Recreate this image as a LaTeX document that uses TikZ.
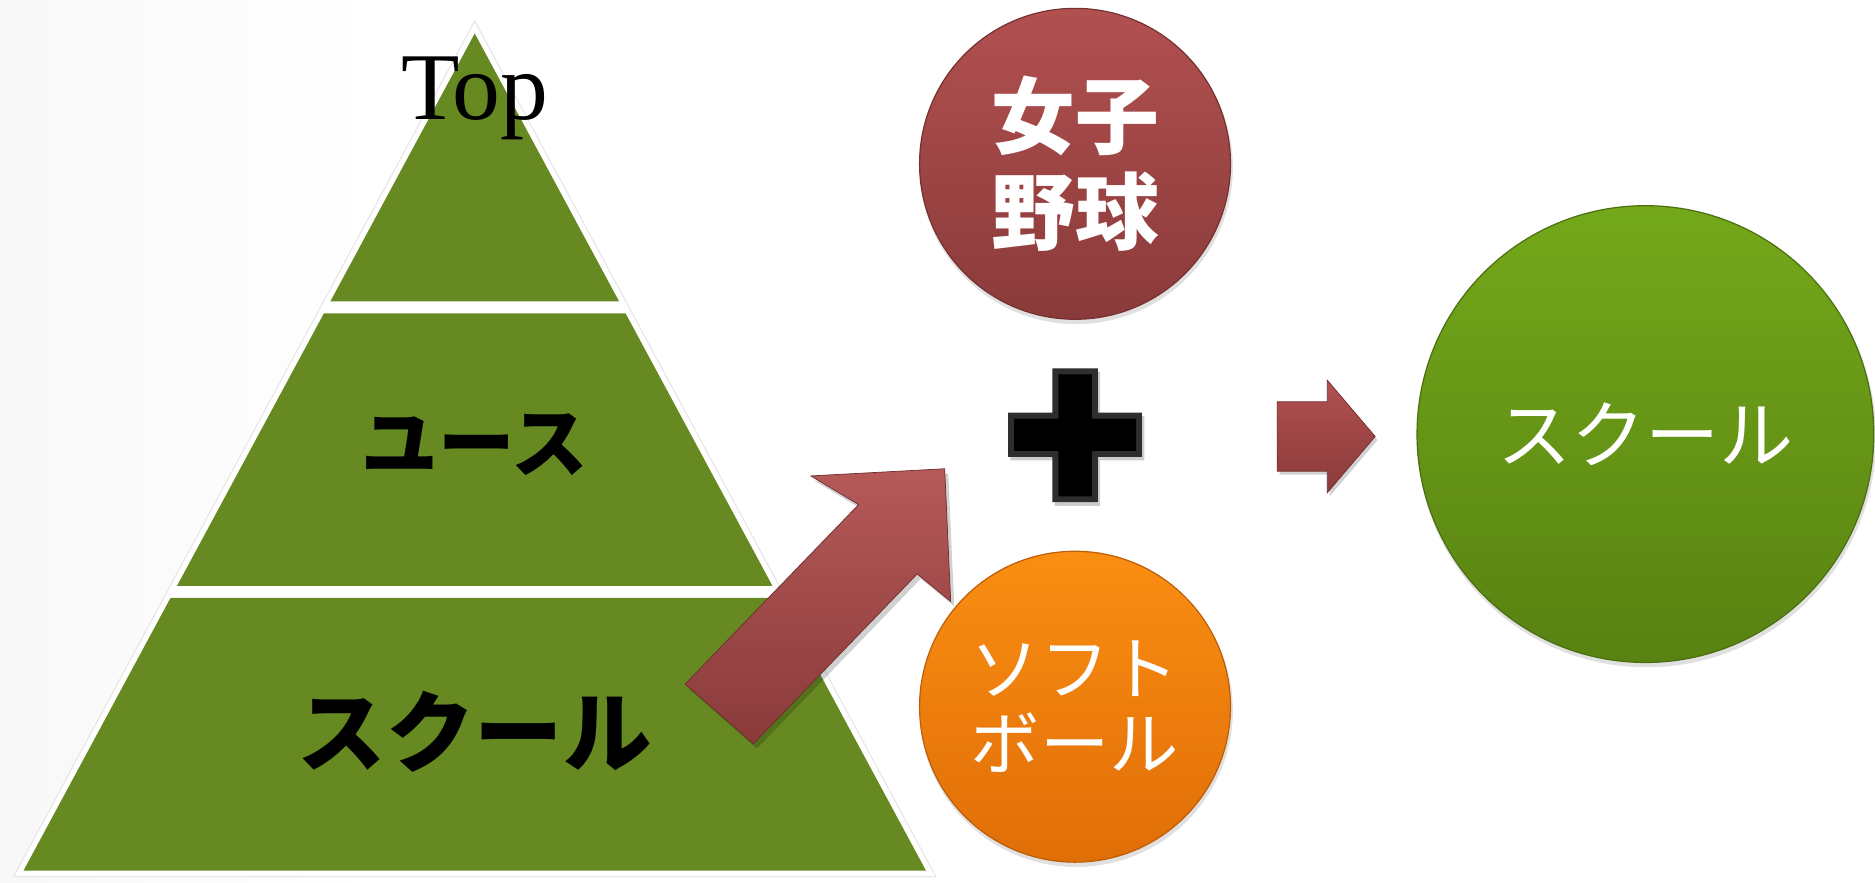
\documentclass[tikz,border=0pt]{standalone}
\usepackage{fontspec}
\setmainfont{Liberation Serif}
\newfontfamily\jp{Noto Sans CJK JP}
\definecolor{pyrgreen}{RGB}{102,137,34}
\definecolor{redtop}{RGB}{178,80,80}
\definecolor{redbot}{RGB}{138,58,58}
\definecolor{orgtop}{RGB}{250,142,18}
\definecolor{orgbot}{RGB}{224,110,8}
\definecolor{grntop}{RGB}{116,168,26}
\definecolor{grnbot}{RGB}{88,130,18}
\pgfdeclarehorizontalshading{bgshade}{100bp}{color(0bp)=(black!10); color(35bp)=(white); color(80bp)=(white); color(100bp)=(black!6)}
\tikzset{
  layer/.style={fill=pyrgreen},
  ball/.style={circle, inner sep=0pt, text=white, align=center, line width=0.5pt},
  ballshadow/.style={fill=black, opacity=0.12},
  pyrtext/.style={text=black},
  blockarrow/.style={top color=redtop, bottom color=redbot, draw=redbot!80!black, line width=0.3pt},
}
\begin{document}
\begin{tikzpicture}[x=0.5pt,y=-0.5pt]
\useasboundingbox (0,0) rectangle (1568,737.6);
\shade[shading=bgshade] (0,0) rectangle (1568,737.6);

% pyramid
\path[fill=white, draw=black!10, line width=0.4pt] (397,17.5) -- (782.6,733) -- (11.4,733) -- cycle;
\path[layer] (397,28) -- (517.7,252) -- (276.3,252) -- cycle;
\path[layer] (270.9,262) -- (523.1,262) -- (646,490) -- (148,490) -- cycle;
\path[layer] (142.6,500) -- (651.4,500) -- (774.3,728) -- (19.7,728) -- cycle;

\node[anchor=base, font=\fontsize{40}{44}\selectfont, inner sep=0pt] (top) at (397,100) {Top};
\node[pyrtext, font=\jp\bfseries\fontsize{32}{36}\selectfont] (youth) at (397,372) {ユース};
\node[pyrtext, font=\jp\bfseries\fontsize{37}{40}\selectfont] (school) at (397,612) {スクール};

% diagonal arrow
\fill[black, opacity=0.18] (576,576) -- (721,426) -- (681,402) -- (793,396) -- (798,507) -- (770,484) -- (633,626) -- cycle;
\shade[blockarrow, left color=redtop!95!white, right color=redbot, shading angle=0]
  (573,572) -- (718,422) -- (678,398) -- (790,392) -- (795,503) -- (767,480) -- (630,622) -- cycle;

% circle shadows
\fill[ballshadow] (900,140) circle (65.5pt);
\fill[ballshadow] (900,594) circle (65.5pt);
\fill[ballshadow] (1377,366) circle (96pt);

% circles
\node[ball, minimum size=130pt, top color=redtop, bottom color=redbot, draw=redbot!85!black,
  font=\jp\bfseries\fontsize{35}{40}\selectfont] (wb) at (899,137) {女子\\野球};
\node[ball, minimum size=130pt, top color=orgtop, bottom color=orgbot, draw=orgbot!85!black,
  font=\jp\fontsize{29}{31}\selectfont] (sb) at (899,591) {ソフト\\ボール};
\node[ball, minimum size=191pt, top color=grntop, bottom color=grnbot, draw=grnbot!85!black,
  font=\jp\fontsize{31}{34}\selectfont] (res) at (1376,363) {スクール};

% plus sign
\fill[black, opacity=0.2]
  (882,311) -- (920,311) -- (920,348) -- (957,348) -- (957,385) -- (920,385) -- (920,423)
  -- (882,423) -- (882,385) -- (845,385) -- (845,348) -- (882,348) -- cycle;
\path[fill=black!82]
  (880,308) -- (918,308) -- (918,345) -- (955,345) -- (955,382) -- (918,382) -- (918,420)
  -- (880,420) -- (880,382) -- (843,382) -- (843,345) -- (880,345) -- cycle;
\path[fill=black]
  (885,313) -- (913,313) -- (913,350) -- (950,350) -- (950,377) -- (913,377) -- (913,415)
  -- (885,415) -- (885,377) -- (848,377) -- (848,350) -- (885,350) -- cycle;

% small right arrow
\fill[black, opacity=0.18] (1070,339) -- (1112,339) -- (1112,321) -- (1152,368) -- (1112,415) -- (1112,397) -- (1070,397) -- cycle;
\shade[blockarrow]
  (1068,336) -- (1110,336) -- (1110,318) -- (1150,365) -- (1110,412) -- (1110,394) -- (1068,394) -- cycle;
\end{tikzpicture}
\end{document}
